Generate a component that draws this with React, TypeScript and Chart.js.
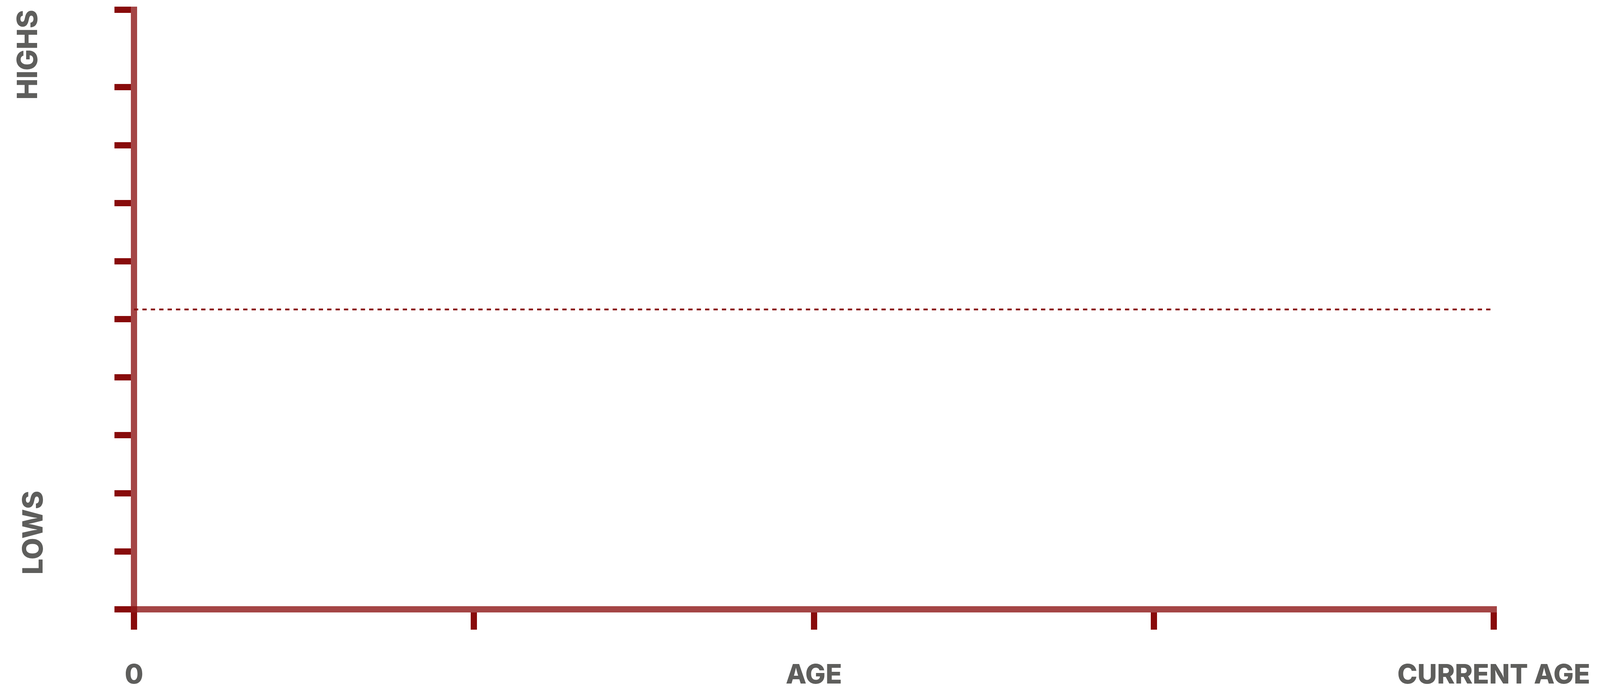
import { useEffect, useRef } from "react";
import { Chart, registerables, type ChartConfiguration, type Plugin } from "chart.js";

Chart.register(...registerables);

const INK = "#880B0B";
const AXIS = "rgba(136,11,11,0.76)";
const TEXT = "#5E5E5C";
const FAMILY = "Inter, 'Noto Sans', sans-serif";

// axis ticks and labels
const X_TICKS = [0, 1, 2, 3, 4];
const X_LABELS = ["0", "", "AGE", "", "CURRENT AGE"];
const Y_TICKS = [0, 1, 2, 3, 4, 5, 6, 7, 8, 9, 10.335];
const Y_MAX = 10.335;

// dotted reference level
const REF_X = [0, 4];
const REF_Y = [5.17, 5.17];

const TOP_LABEL = "HIGHS";
const BOTTOM_LABEL = "LOWS";

const sideLabels: Plugin = {
  id: "sideLabels",
  afterDraw(chart) {
    const { ctx, chartArea } = chart;
    ctx.save();
    ctx.fillStyle = TEXT;
    ctx.font = `800 72px ${FAMILY}`;
    ctx.textBaseline = "alphabetic";

    ctx.save();
    ctx.translate(95, chartArea.top);
    ctx.rotate(-Math.PI / 2);
    ctx.textAlign = "right";
    ctx.fillText(TOP_LABEL, 0, 0);
    ctx.restore();

    ctx.save();
    ctx.translate(109, chartArea.bottom - 89);
    ctx.rotate(-Math.PI / 2);
    ctx.textAlign = "left";
    ctx.fillText(BOTTOM_LABEL, 0, 0);
    ctx.restore();

    ctx.restore();
  },
};

export default function App() {
  const canvasRef = useRef<HTMLCanvasElement>(null);
  const chartRef = useRef<Chart | null>(null);

  useEffect(() => {
    if (!canvasRef.current) return;
    chartRef.current?.destroy();

    const cfg: ChartConfiguration = {
      type: "line",
      data: {
        datasets: [
          {
            data: REF_X.map((x, i) => ({ x, y: REF_Y[i] })),
            borderColor: INK,
            borderWidth: 4.5,
            borderDash: [11, 10.5],
            pointRadius: 0,
            fill: false,
          },
        ],
      },
      options: {
        animation: false,
        responsive: true,
        maintainAspectRatio: false,
        devicePixelRatio: 1,
        // bottom is negative: Chart.js reserves tick padding twice under the labels
        layout: { padding: { left: 293, top: 25, right: 289, bottom: -82 } },
        plugins: { legend: { display: false }, tooltip: { enabled: false } },
        scales: {
          x: {
            type: "linear",
            min: 0,
            max: 4,
            afterBuildTicks: (s) => {
              s.ticks = X_TICKS.map((value) => ({ value }));
            },
            grid: {
              drawOnChartArea: false,
              lineWidth: 16,
              tickLength: 52,
              tickWidth: 16,
              tickColor: INK,
            },
            border: { color: AXIS, width: 16 },
            ticks: {
              autoSkip: false,
              maxRotation: 0,
              padding: 0,
              color: TEXT,
              font: { family: FAMILY, size: 69, weight: "800", lineHeight: 3.39 },
              callback: (_v, i) => X_LABELS[i],
            },
          },
          y: {
            type: "linear",
            min: 0,
            max: Y_MAX,
            afterBuildTicks: (s) => {
              s.ticks = Y_TICKS.map((value) => ({ value }));
            },
            grid: {
              drawOnChartArea: false,
              lineWidth: 16,
              tickLength: 50,
              tickWidth: 16,
              tickColor: INK,
            },
            border: { color: AXIS, width: 16 },
            ticks: { display: false },
          },
        },
      },
      plugins: [sideLabels],
    };

    chartRef.current = new Chart(canvasRef.current, cfg);
    return () => {
      chartRef.current?.destroy();
    };
  }, []);

  return (
    <div style={{ position: "fixed", left: 0, top: 0, width: 4113, height: 1764, background: "#fff" }}>
      <canvas ref={canvasRef} />
    </div>
  );
}
